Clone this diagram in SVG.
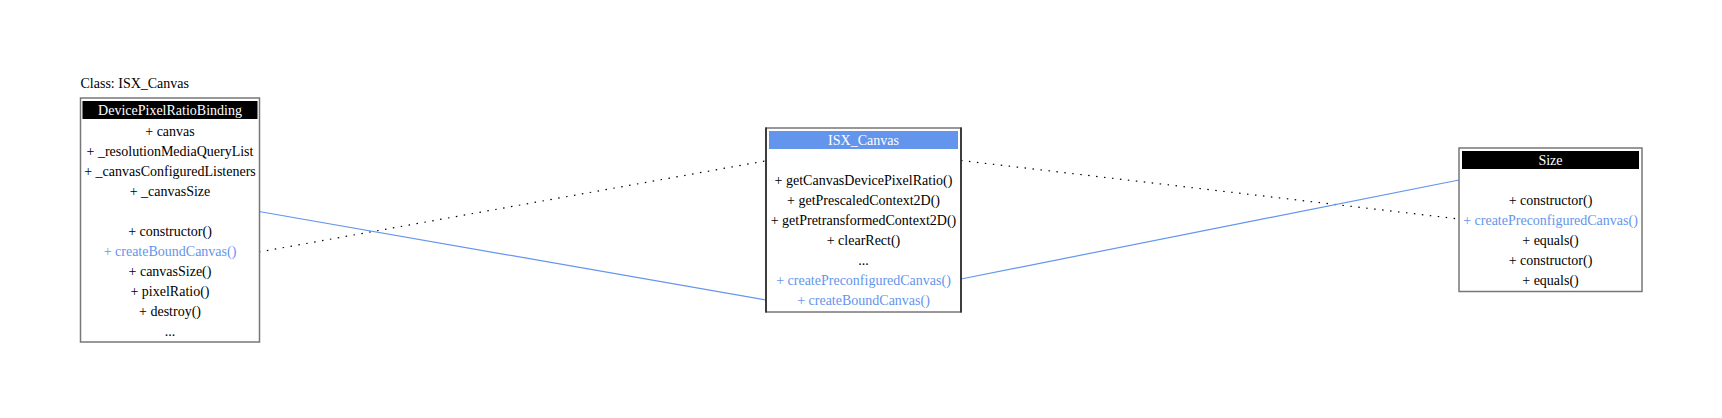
<svg xmlns="http://www.w3.org/2000/svg" width="1722" height="418" viewBox="0 0 1722 418">
<style>
text{font-family:"Liberation Serif","Times New Roman",serif;font-size:14px;fill:#000}
.c{text-anchor:middle}
.w{fill:#fff}
.b{fill:#6495ED}
.box{fill:#fff;stroke:#777;stroke-width:1.5}
.hdk{fill:#000}
.hbl{fill:#6495ED}
.solid{fill:none;stroke:#6495ED;stroke-width:1.2}
.dot{fill:none;stroke:#000;stroke-width:1.2;stroke-dasharray:1.5,6.5}
</style>
<rect width="1722" height="418" fill="#fff"/>
<text x="80.5" y="87.5">Class: ISX_Canvas</text>
<g id="connectors">
<line class="dot" x1="259" y1="252" x2="765" y2="161"/>
<line class="solid" x1="259" y1="211.5" x2="766" y2="300"/>
<line class="dot" x1="961" y1="160.5" x2="1459" y2="219"/>
<line class="solid" x1="961" y1="279" x2="1459" y2="180"/>
</g>
<g id="DevicePixelRatioBinding">
<rect class="box" x="80.5" y="98" width="179" height="244"/>
<rect class="hdk" x="82.5" y="101" width="175" height="18"/>
<text class="c w" x="170" y="115">DevicePixelRatioBinding</text>
<text class="c" x="170" y="135.5">+ canvas</text>
<text class="c" x="170" y="155.5">+ _resolutionMediaQueryList</text>
<text class="c" x="170" y="175.5">+ _canvasConfiguredListeners</text>
<text class="c" x="170" y="195.5">+ _canvasSize</text>
<text class="c" x="170" y="235.5">+ constructor()</text>
<text class="c b" x="170" y="255.5">+ createBoundCanvas()</text>
<text class="c" x="170" y="275.5">+ canvasSize()</text>
<text class="c" x="170" y="295.5">+ pixelRatio()</text>
<text class="c" x="170" y="315.5">+ destroy()</text>
<text class="c" x="170" y="335.5">...</text>
</g>
<g id="ISX_Canvas">
<rect class="box" x="766" y="128" width="195" height="184"/>
<line x1="766" y1="127.5" x2="766" y2="312.5" stroke="#000" stroke-width="1.2"/>
<line x1="961" y1="127.5" x2="961" y2="312.5" stroke="#000" stroke-width="1.2"/>
<rect class="hbl" x="769" y="131" width="189" height="18"/>
<text class="c w" x="863.5" y="144.5">ISX_Canvas</text>
<text class="c" x="863.5" y="185">+ getCanvasDevicePixelRatio()</text>
<text class="c" x="863.5" y="205">+ getPrescaledContext2D()</text>
<text class="c" x="863.5" y="225">+ getPretransformedContext2D()</text>
<text class="c" x="863.5" y="245">+ clearRect()</text>
<text class="c" x="863.5" y="265">...</text>
<text class="c b" x="863.5" y="285">+ createPreconfiguredCanvas()</text>
<text class="c b" x="863.5" y="305">+ createBoundCanvas()</text>
</g>
<g id="Size">
<rect class="box" x="1459" y="148" width="183" height="143.5"/>
<rect class="hdk" x="1462" y="151" width="177" height="18"/>
<text class="c w" x="1550.5" y="164.5">Size</text>
<text class="c" x="1550.5" y="205">+ constructor()</text>
<text class="c b" x="1550.5" y="225">+ createPreconfiguredCanvas()</text>
<text class="c" x="1550.5" y="245">+ equals()</text>
<text class="c" x="1550.5" y="265">+ constructor()</text>
<text class="c" x="1550.5" y="285">+ equals()</text>
</g>
</svg>
